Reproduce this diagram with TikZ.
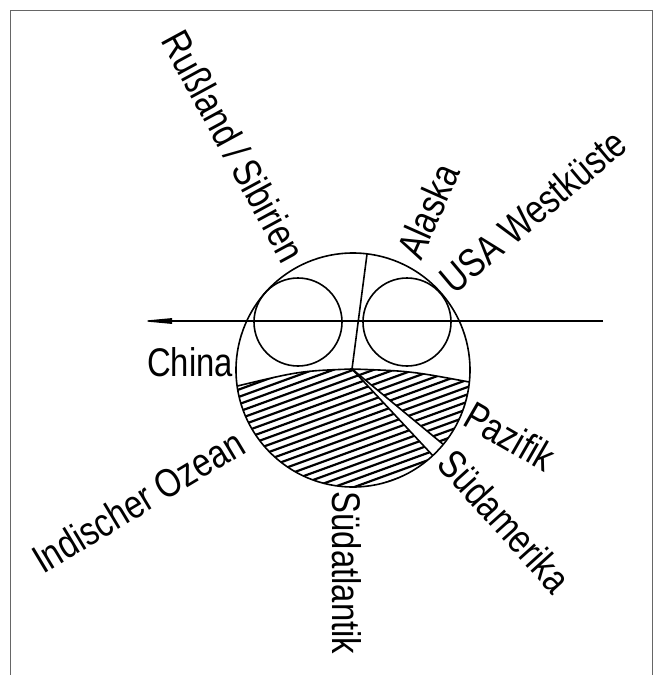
\documentclass[tikz,border=0pt]{standalone}
\usepackage{fontspec}
\setmainfont{Liberation Sans}
\newfontfamily\labfont[FakeStretch=0.82]{Liberation Sans}
\usetikzlibrary{arrows.meta,calc}
\begin{document}
\begin{tikzpicture}[x=1pt,y=-1pt,
  outline/.style={line width=1.6pt},
  hatchline/.style={line width=2.2pt},
  lab/.style={font=\labfont\fontsize{40}{40}\selectfont, inner sep=0pt, anchor=center}]
\useasboundingbox (0,0) rectangle (654,675);
\draw[line width=1pt, black!60] (10,675) -- (10,10) -- (652,10) -- (652,675);

\coordinate (C) at (353,370);
\coordinate (V) at (352,369);
\coordinate (L) at ($(C)+(172.1:117)$);
\coordinate (P1) at ($(C)+(47:117)$);
\coordinate (P2) at ($(C)+(39.5:117)$);
\coordinate (R) at ($(C)+(5.9:117)$);
\coordinate (T) at ($(C)+(-83.1:117)$);

% hatching left piece
\begin{scope}
  \clip (V) .. controls (300,371) .. (L) arc[start angle=172.1, end angle=47, radius=117] -- cycle;
  \begin{scope}[rotate around={20:(353,370)}]
    \foreach \k in {-26,...,26} \draw[hatchline] (120,{370+\k*6.9}) -- (590,{370+\k*6.9});
  \end{scope}
\end{scope}
% hatching right piece
\begin{scope}
  \clip (V) -- (P2) arc[start angle=39.5, end angle=5.9, radius=117] .. controls (410,371) .. (V) -- cycle;
  \begin{scope}[rotate around={20:(353,370)}]
    \foreach \k in {-26,...,26} \draw[hatchline] (120,{370+\k*6.9}) -- (590,{370+\k*6.9});
  \end{scope}
\end{scope}

\draw[outline] (L) .. controls (300,371) .. (V) -- (P1);
\draw[outline] (R) .. controls (410,371) .. (V) -- (P2);
\draw[outline] (C) circle[radius=117];
\draw[outline] (T) -- (V);
\draw[outline] (298,322) circle[radius=44];
\draw[outline] (407,322) circle[radius=44];

\coordinate (AR) at (603,321);
\coordinate (AL) at (140,321);
\draw[line width=1.3pt, -{Triangle[length=32pt,width=5.5pt]}] (AR) -- (AL);

\node[lab, rotate=-61.5] (russ) at (234,146) {Rußland\,/\,Sibirien};
\node[lab, rotate=66] (alaska) at (428,211) {Alaska};
\node[lab, rotate=40] (usa) at (533,211) {USA Westküste};
\node[lab] (china) at (190,362) {China};
\node[lab, rotate=-30] (pazifik) at (510,436) {Pazifik};
\node[lab, rotate=-48] (suedam) at (505,521) {Südamerika};
\node[lab, rotate=-90] (suedat) at (347,573) {Südatlantik};
\node[lab, rotate=31] (indisch) at (138,501) {Indischer Ozean};
\end{tikzpicture}
\end{document}
